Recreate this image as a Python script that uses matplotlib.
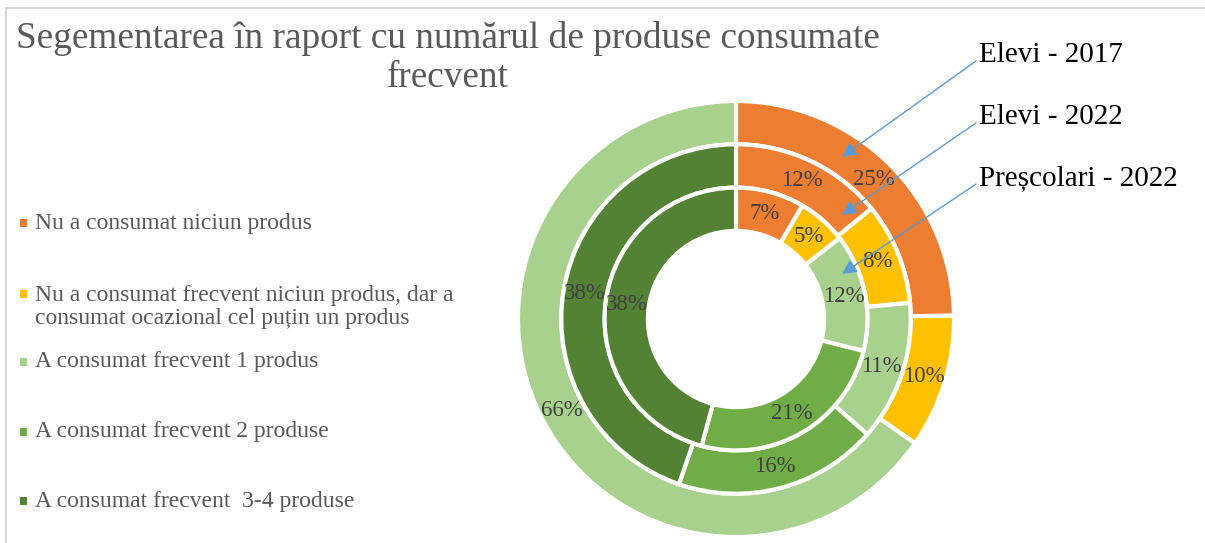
import matplotlib
matplotlib.use("Agg")
import matplotlib.pyplot as plt
import numpy as np

plt.rcParams['font.family'] = ['Liberation Serif', 'DejaVu Serif']

# data ---------------------------------------------------------------
categories = ["Nu a consumat niciun produs",
              "Nu a consumat frecvent niciun produs, dar a\nconsumat ocazional cel puțin un produs",
              "A consumat frecvent 1 produs",
              "A consumat frecvent 2 produse",
              "A consumat frecvent  3-4 produse"]
colors = ['#ED7D31', '#FFC000', '#A9D18E', '#70AD47', '#548235']

elevi_2017 = [25, 10, 66]
elevi_2022 = [12, 8, 11, 16, 38]
prescolari_2022 = [7, 5, 12, 21, 38]
ring_names = ["Elevi - 2017", "Elevi - 2022", "Preșcolari - 2022"]

title = "Segementarea în raport cu numărul de produse consumate\nfrecvent"

# figure ---------------------------------------------------------------
W, H = 1205, 543
fig = plt.figure(figsize=(W / 100, H / 100), dpi=100)

cx, cy, R = 736, 319, 218
ax = fig.add_axes([(cx - R) / W, (H - cy - R) / H, 2 * R / W, 2 * R / H])

width = 0.1986
rings = [elevi_2017, elevi_2022, prescolari_2022]
for i, vals in enumerate(rings):
    r = 1 - i * width
    wedges, _ = ax.pie(vals, radius=r, colors=colors[:len(vals)], startangle=90,
                       counterclock=False,
                       wedgeprops=dict(width=width, edgecolor='white', linewidth=3))
    rm = r - width / 2
    for w, v in zip(wedges, vals):
        th = np.deg2rad((w.theta1 + w.theta2) / 2)
        ax.text(rm * np.cos(th), rm * np.sin(th), f"{v}%", ha='center', va='center',
                fontsize=16.5, color='#404040')
ax.set_xlim(-1, 1)
ax.set_ylim(-1, 1)
ax.set_aspect('equal')

# overlay in pixel coords (y down)
ov = fig.add_axes([0, 0, 1, 1], facecolor='none')
ov.set_xlim(0, W)
ov.set_ylim(H, 0)
ov.axis('off')

# frame
ov.plot([6, W], [8, 8], color='#D9D9D9', lw=1.5)
ov.plot([6, 6], [8, H], color='#D9D9D9', lw=1.5)

ov.text(448, 58, title, ha='center', va='center', fontsize=26.8, color='#595959',
        linespacing=1.18)

# legend
marker_y = [223, 294, 362, 432, 501]
text_y = [223, 307, 362, 432, 501]
for c, lab, my, ty in zip(colors, categories, marker_y, text_y):
    ov.scatter([23.5], [my], marker='s', s=30, color=c, edgecolors='none')
    ov.text(35, ty, lab, ha='left', va='center', fontsize=17, color='#595959',
            linespacing=1.15)

# ring annotations
name_y = [55, 117, 178]
tips = [(842, 157), (842, 215), (842, 274)]
for name, ny, tip in zip(ring_names, name_y, tips):
    ov.text(979, ny, name, ha='left', va='center', fontsize=21, color='black')
    ov.annotate('', xy=tip, xytext=(976, ny + 6),
                arrowprops=dict(arrowstyle='-|>', color='#5B9BD5', lw=1,
                                mutation_scale=22, shrinkA=0, shrinkB=0))

fig.savefig('out.png', dpi=100)
